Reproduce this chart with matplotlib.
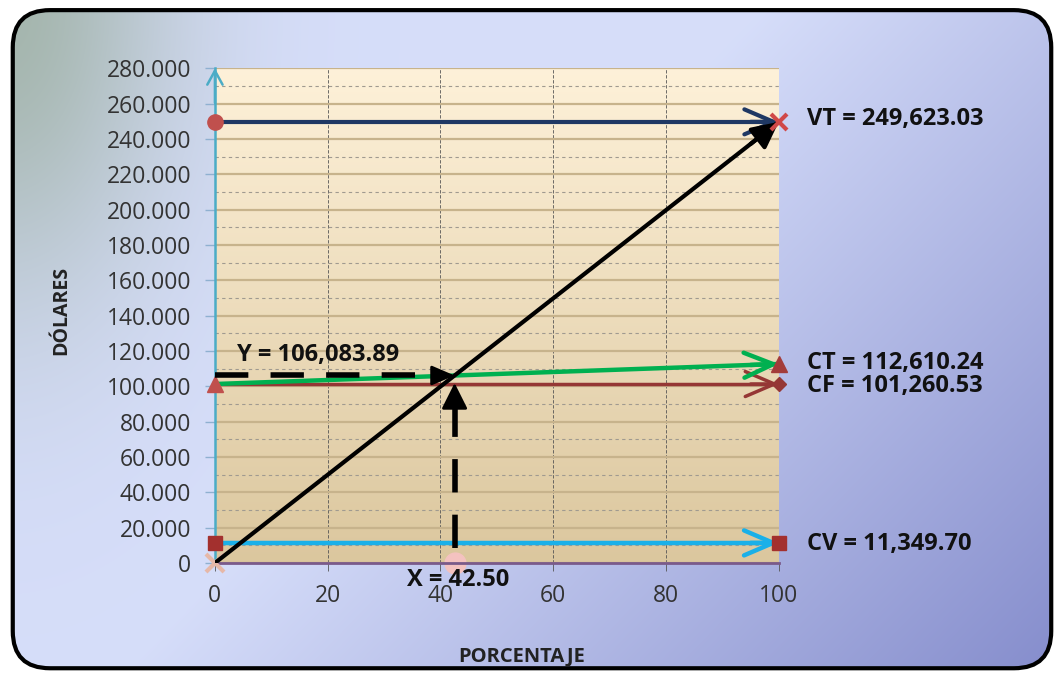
import numpy as np
import matplotlib
matplotlib.use('Agg')
import matplotlib.pyplot as plt
from matplotlib.patches import FancyBboxPatch
from matplotlib.ticker import FuncFormatter, MultipleLocator

plt.rcParams['font.family'] = ['Open Sans', 'DejaVu Sans']

# datos del punto de equilibrio
pct = [0, 100]
vt_vals = [249623.03, 249623.03]
ingresos = [0, 249623.03]
ct_vals = [101260.53, 112610.24]
cf_vals = [101260.53, 101260.53]
cv_vals = [11349.70, 11349.70]
x_eq = 42.50
y_eq = 106083.89

etiquetas = {
    'VT': 'VT = 249,623.03',
    'CT': 'CT = 112,610.24',
    'CF': 'CF = 101,260.53',
    'CV': 'CV = 11,349.70',
}
y_max = 280000
y_paso = 20000
x_paso = 20

fig = plt.figure(figsize=(10.64, 6.75), dpi=100)

# fondo con degradado y borde redondeado
bg = fig.add_axes([0, 0, 1, 1], zorder=-10)
bg.set_xlim(0, 1)
bg.set_ylim(0, 1)
bg.axis('off')
H, W = 135, 213
v, u = np.mgrid[0:1:H * 1j, 0:1:W * 1j]
lav = np.array([0.84, 0.87, 0.98])
azul = np.array([0.52, 0.55, 0.80])
verde = np.array([0.58, 0.66, 0.58])
w1 = np.clip((u * 0.9 + v * 0.55 - 0.65) / 0.8, 0, 1)[..., None]
w2 = (np.exp(-((u / 0.16) ** 2 + (v / 0.45) ** 2)) * 0.75)[..., None]
img = lav * (1 - w1) + azul * w1
img = img * (1 - w2) + verde * w2
caja = FancyBboxPatch((0.012, 0.01), 0.976, 0.975, boxstyle='round,pad=0,rounding_size=0.035',
                      transform=bg.transAxes, facecolor='none', edgecolor='black', lw=3, zorder=5,
                      mutation_aspect=1064 / 675)
bg.add_patch(caja)
im = bg.imshow(img, extent=[0, 1, 0, 1], aspect='auto', origin='upper', zorder=0,
               interpolation='bilinear')
im.set_clip_path(caja)

ax = fig.add_axes([0.202, 0.166, 0.530, 0.733])

# degradado del área de trazado
g = np.linspace(0, 1, 200)[:, None]
cima = np.array([0.995, 0.945, 0.85])
base = np.array([0.86, 0.78, 0.62])
area = (cima * (1 - g) + base * g)[:, None, :].repeat(2, axis=1)
ax.imshow(area, extent=[0, 100, 0, y_max], aspect='auto', origin='upper', zorder=0)

ax.set_xlim(0, 100)
ax.set_ylim(0, y_max)
ax.yaxis.set_major_locator(MultipleLocator(y_paso))
ax.yaxis.set_minor_locator(MultipleLocator(y_paso / 2))
ax.xaxis.set_major_locator(MultipleLocator(x_paso))
ax.yaxis.set_major_formatter(FuncFormatter(lambda val, p: f'{val:,.0f}'.replace(',', '.')))

ax.grid(which='major', axis='y', color='#c7b38c', lw=1.6, zorder=1)
ax.grid(which='minor', axis='y', color='#a09a90', lw=0.8, ls=(0, (3, 3)), zorder=1)
ax.grid(which='major', axis='x', color='#555555', lw=0.6, ls=(0, (4, 2)), zorder=1)
ax.set_axisbelow(True)

for lado in ['top', 'right']:
    ax.spines[lado].set_visible(False)
ax.spines['left'].set_color('#4bacc6')
ax.spines['left'].set_linewidth(1.8)
ax.spines['bottom'].set_color('#7a5a8a')
ax.spines['bottom'].set_linewidth(2)

ax.tick_params(axis='y', which='major', length=7, width=1, color='#8fb0d0', pad=10,
               labelsize=16.5, labelcolor='#333333')
ax.tick_params(axis='y', which='minor', length=0)
ax.tick_params(axis='x', length=6, width=0.6, color='#555555', pad=9,
               labelsize=16.5, labelcolor='#333333')

# flecha del eje y
ax.annotate('', xy=(0, y_max), xytext=(0, y_max * 0.93),
            arrowprops=dict(arrowstyle='->,head_length=1.0,head_width=0.55', color='#4bacc6', lw=1.8,
                            shrinkA=0, shrinkB=0), annotation_clip=False, zorder=4)

def linea_flecha(xs, ys, color, lw, estilo='->,head_length=2.1,head_width=0.9'):
    ax.plot(xs, ys, color=color, lw=lw, solid_capstyle='butt', zorder=3)
    xa = xs[-1] - (xs[-1] - xs[0]) * 0.05
    ya = ys[-1] - (ys[-1] - ys[0]) * 0.05
    ax.annotate('', xy=(xs[-1], ys[-1]), xytext=(xa, ya),
                arrowprops=dict(arrowstyle=estilo, color=color, lw=lw, shrinkA=0, shrinkB=0),
                annotation_clip=False, zorder=4)

linea_flecha(pct, vt_vals, '#1f3864', 3)
linea_flecha(pct, cf_vals, '#953735', 2.5)
linea_flecha(pct, ct_vals, '#00b050', 3.2)
linea_flecha(pct, cv_vals, '#1ab0e8', 3.2)

# ventas totales (diagonal)
ax.plot(pct, ingresos, color='black', lw=3, zorder=5)
ax.annotate('', xy=(pct[-1], ingresos[-1]), xytext=(pct[-1] - 5, ingresos[-1] * 0.95),
            arrowprops=dict(arrowstyle='-|>,head_length=1.6,head_width=0.8', color='black', lw=3,
                            shrinkA=0, shrinkB=0), annotation_clip=False, zorder=6)

# marcadores
ax.plot(pct[0], vt_vals[0], 'o', color='#c0504d', ms=11, clip_on=False, zorder=6)
ax.plot(pct[-1], vt_vals[-1], 'x', color='#d04848', ms=12, mew=3, clip_on=False, zorder=6)
ax.plot(pct[0], ct_vals[0], '^', color='#c0504d', ms=11, clip_on=False, zorder=6)
ax.plot(pct[-1], ct_vals[-1], '^', color='#a33c3a', ms=11, clip_on=False, zorder=6)
ax.plot(pct[-1], cf_vals[-1], 'D', color='#953735', ms=7, clip_on=False, zorder=6)
ax.plot(pct, cv_vals, 's', color='#a3302e', ms=10, clip_on=False, zorder=6)
ax.plot(pct[0], ingresos[0], 'x', color='#e6b8a8', ms=13, mew=3, clip_on=False, zorder=4)
ax.plot(x_eq, 0, 'o', color='#f4c2c0', ms=15, clip_on=False, zorder=2)

# flechas discontinuas del punto de equilibrio
ax.plot([pct[0], x_eq - 2.5], [y_eq, y_eq], color='black', lw=4, ls=(0, (6, 4)), zorder=7)
ax.annotate('', xy=(x_eq, y_eq), xytext=(x_eq - 3, y_eq),
            arrowprops=dict(arrowstyle='-|>,head_length=1.4,head_width=0.6', color='black', lw=2,
                            shrinkA=0, shrinkB=0), zorder=8)
ax.plot([x_eq, x_eq], [y_max * 0.03, y_eq * 0.9], color='black', lw=4, ls=(0, (6, 4)), zorder=7)
ax.annotate('', xy=(x_eq, y_eq * 0.96), xytext=(x_eq, y_eq * 0.85),
            arrowprops=dict(arrowstyle='-|>,head_length=1.6,head_width=0.8', color='black', lw=2,
                            shrinkA=0, shrinkB=0), zorder=8)

# etiquetas
fuente = dict(fontsize=17, fontweight='bold', color='#111111', va='center', ha='left',
              textcoords='offset points', annotation_clip=False)
ax.annotate(etiquetas['VT'], xy=(pct[-1], vt_vals[-1]), xytext=(20, 2), **fuente)
ax.annotate(etiquetas['CT'], xy=(pct[-1], ct_vals[-1]), xytext=(20, 1), **fuente)
ax.annotate(etiquetas['CF'], xy=(pct[-1], cf_vals[-1]), xytext=(20, -1.5), **fuente)
ax.annotate(etiquetas['CV'], xy=(pct[-1], cv_vals[-1]), xytext=(20, -1), **fuente)
ax.annotate(f'Y = {y_eq:,.2f}', xy=(pct[0], y_eq), xytext=(16, 15), **fuente)
ax.annotate(f'X = {x_eq:.2f}', xy=(x_eq, 0), xytext=(-34, -12), **fuente)

ax.set_ylabel('DÓLARES', fontsize=14, fontweight='bold', color='#222222')
ax.set_xlabel('PORCENTAJE', fontsize=14.5, fontweight='bold', color='#222222')
ax.yaxis.set_label_coords(-0.255, 0.511)
ax.xaxis.set_label_coords(0.544, -0.168)

fig.savefig('out.png', dpi=100)
